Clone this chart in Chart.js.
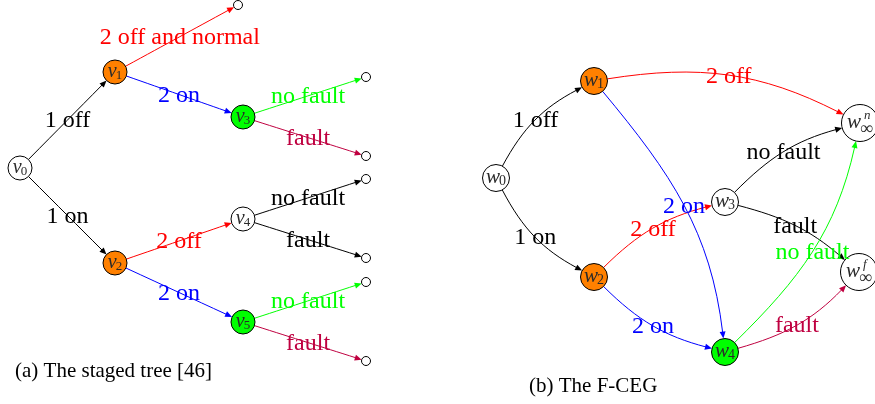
<!DOCTYPE html>
<html>
<head>
<meta charset="utf-8">
<script src="https://cdn.jsdelivr.net/npm/chart.js@4.4.0/dist/chart.umd.min.js"></script>
<style>
  html, body { margin: 0; padding: 0; background: #fff; }
  canvas { display: block; }
</style>
</head>
<body>
<canvas id="graphChart" width="875" height="404" style="width:875px;height:404px"></canvas>
<script>
// Nodes: (a) staged tree v*, leaves l*, (b) F-CEG w*
const nodeNames  = ['v0','v1','v2','v3','v4','v5','l1','l2','l3','l4','l5','l6','l7',
                    'w0','w1','w2','w3','w4','wn','wf'];
const nodeSymbol = ['v','v','v','v','v','v','','','','','','','',
                    'w','w','w','w','w','w','w'];
const nodeSub    = ['0','1','2','3','4','5','','','','','','','',
                    '0','1','2','3','4','\u221E','\u221E'];
const nodeSup    = ['','','','','','','','','','','','','',
                    '','','','','','n','f'];
const nodeStage  = ['none','orange','orange','green','none','green',
                    'leaf','leaf','leaf','leaf','leaf','leaf','leaf',
                    'none','orange','orange','none','green','none','none'];
const nodeX = [20, 115, 115, 243, 243, 243, 238, 366, 366, 366, 366, 366, 366,
               496, 594, 594, 725, 725, 860, 859];
const nodeY = [168, 72, 263, 117, 219, 322, 5, 77, 156, 179, 258, 282, 361,
               178, 81, 277, 202, 352, 123, 272];

// Edges
const edgeFrom  = ['v0','v0','v1','v1','v3','v3','v2','v2','v4','v4','v5','v5',
                   'w0','w0','w1','w1','w2','w2','w3','w3','w4','w4'];
const edgeTo    = ['v1','v2','l1','v3','l2','l3','v4','v5','l4','l5','l6','l7',
                   'w1','w2','wn','w4','w3','w4','wn','wf','wn','wf'];
const edgeLabel = ['1 off','1 on','2 off and normal','2 on','no fault','fault',
                   '2 off','2 on','no fault','fault','no fault','fault',
                   '1 off','1 on','2 off','2 on','2 off','2 on','no fault','fault','no fault','fault'];
const edgeKind  = ['k','k','r','b','g','m','r','b','k','k','g','m',
                   'k','k','r','b','r','b','k','k','g','m'];

const captions = ['(a) The staged tree [46]', '(b) The F-CEG'];

// styling
const stageFill = { none: '#ffffff', leaf: '#ffffff', orange: '#ff8000', green: '#00ff00' };
const edgeColors = { k: '#000000', r: '#ff0000', b: '#0000ff', g: '#00ff00', m: '#bf0040' };
// bend angles (out, in) in degrees, positive bends to the left; tree edges are straight
const edgeBend = [
  [0,0],[0,0],[0,0],[0,0],[0,0],[0,0],[0,0],[0,0],[0,0],[0,0],[0,0],[0,0],
  [17,17],[-17,-17],[18,18],[14,19],[15,15],[-15,-15],[15,15],[13,13],[-15,-18],[-15,-15]
];
const captionPos = [[15, 377], [529, 392]];
const SERIF = '"Liberation Serif", "Times New Roman", serif';

const nodeRadius = i => {
  if (!nodeSymbol[i]) return 4.5;
  if (nodeSup[i]) return 18.5;
  return nodeSymbol[i] === 'w' ? 13.5 : 12;
};

const idx = name => nodeNames.indexOf(name);

function edgeGeometry(chart, e) {
  const xs = chart.scales.x, ys = chart.scales.y;
  const a = idx(edgeFrom[e]), b = idx(edgeTo[e]);
  const p0 = { x: xs.getPixelForValue(nodeX[a]), y: ys.getPixelForValue(nodeY[a]) };
  const p3 = { x: xs.getPixelForValue(nodeX[b]), y: ys.getPixelForValue(nodeY[b]) };
  const phi = Math.atan2(p3.y - p0.y, p3.x - p0.x);
  const bo = edgeBend[e][0] * Math.PI / 180;
  const bi = edgeBend[e][1] * Math.PI / 180;
  const oa = phi - bo, ia = phi + bi;
  const s = { x: p0.x + nodeRadius(a) * Math.cos(oa), y: p0.y + nodeRadius(a) * Math.sin(oa) };
  const t = { x: p3.x - nodeRadius(b) * Math.cos(ia), y: p3.y - nodeRadius(b) * Math.sin(ia) };
  const d = 0.3915 * Math.hypot(t.x - s.x, t.y - s.y);
  const c1 = { x: s.x + d * Math.cos(oa), y: s.y + d * Math.sin(oa) };
  const c2 = { x: t.x - d * Math.cos(ia), y: t.y - d * Math.sin(ia) };
  return { s, c1, c2, t, ia };
}

function bezierAt(g, u) {
  const v = 1 - u;
  const k0 = v * v * v, k1 = 3 * v * v * u, k2 = 3 * v * u * u, k3 = u * u * u;
  return {
    x: k0 * g.s.x + k1 * g.c1.x + k2 * g.c2.x + k3 * g.t.x,
    y: k0 * g.s.y + k1 * g.c1.y + k2 * g.c2.y + k3 * g.t.y
  };
}

function drawNodeLabel(ctx, i, cx, cy) {
  const sym = nodeSymbol[i];
  if (!sym) return;
  const big = sym === 'w' ? 21 : 20;
  const mainFont = `italic ${big}px ${SERIF}`;
  const subFont = nodeSup[i] ? `${big - 3}px ${SERIF}` : `${big - 7}px ${SERIF}`;
  const supFont = `italic ${big - 8}px ${SERIF}`;
  ctx.font = mainFont;
  const wMain = ctx.measureText(sym).width;
  ctx.font = subFont;
  const wSub = ctx.measureText(nodeSub[i]).width;
  const total = wMain + wSub - 1;
  const x0 = cx - total / 2;
  const base = cy + 4.5;
  ctx.fillStyle = '#2a2a2a';
  ctx.textAlign = 'left';
  ctx.textBaseline = 'alphabetic';
  ctx.font = mainFont;
  ctx.fillText(sym, x0, base);
  ctx.font = subFont;
  ctx.fillText(nodeSub[i], x0 + wMain - 1, base + (nodeSup[i] ? 6 : 2.5));
  if (nodeSup[i]) {
    ctx.font = supFont;
    ctx.fillText(nodeSup[i], x0 + wMain + 3, base - 9);
  }
}

const graphPlugin = {
  id: 'graphPlugin',
  beforeDatasetsDraw(chart) {
    const ctx = chart.ctx;
    ctx.save();
    edgeFrom.forEach((_, e) => {
      const g = edgeGeometry(chart, e);
      const col = edgeColors[edgeKind[e]];
      ctx.strokeStyle = col;
      ctx.fillStyle = col;
      ctx.lineWidth = 1;
      // stop the line at the arrow base
      const len = 7, hw = 3;
      const bx = g.t.x - (len - 1) * Math.cos(g.ia), by = g.t.y - (len - 1) * Math.sin(g.ia);
      ctx.beginPath();
      ctx.moveTo(g.s.x, g.s.y);
      ctx.bezierCurveTo(g.c1.x, g.c1.y, g.c2.x, g.c2.y, bx, by);
      ctx.stroke();
      const ux = Math.cos(g.ia), uy = Math.sin(g.ia);
      ctx.beginPath();
      ctx.moveTo(g.t.x, g.t.y);
      ctx.lineTo(g.t.x - len * ux - hw * uy, g.t.y - len * uy + hw * ux);
      ctx.lineTo(g.t.x - len * ux + hw * uy, g.t.y - len * uy - hw * ux);
      ctx.closePath();
      ctx.fill();
    });
    ctx.restore();
  },
  afterDatasetsDraw(chart) {
    const ctx = chart.ctx;
    const xs = chart.scales.x, ys = chart.scales.y;
    ctx.save();
    // node labels
    nodeNames.forEach((_, i) => {
      drawNodeLabel(ctx, i, xs.getPixelForValue(nodeX[i]), ys.getPixelForValue(nodeY[i]));
    });
    // edge labels at midway
    ctx.font = `24px ${SERIF}`;
    ctx.textAlign = 'center';
    ctx.textBaseline = 'middle';
    edgeLabel.forEach((lab, e) => {
      const g = edgeGeometry(chart, e);
      const m = bezierAt(g, 0.5);
      ctx.fillStyle = edgeColors[edgeKind[e]];
      ctx.fillText(lab, m.x, m.y + 1);
    });
    // captions
    ctx.font = `21px ${SERIF}`;
    ctx.textAlign = 'left';
    ctx.textBaseline = 'alphabetic';
    ctx.fillStyle = '#000';
    captions.forEach((c, k) => {
      ctx.fillText(c, xs.getPixelForValue(captionPos[k][0]), ys.getPixelForValue(captionPos[k][1]));
    });
    ctx.restore();
  }
};

const ctx = document.getElementById('graphChart').getContext('2d');
new Chart(ctx, {
  type: 'scatter',
  data: {
    datasets: [{
      label: 'nodes',
      data: nodeNames.map((n, i) => ({ x: nodeX[i], y: nodeY[i] })),
      pointRadius: nodeNames.map((n, i) => nodeRadius(i)),
      pointHoverRadius: nodeNames.map((n, i) => nodeRadius(i)),
      pointBackgroundColor: nodeStage.map(s => stageFill[s]),
      pointBorderColor: '#000000',
      pointBorderWidth: 1,
      clip: false
    }]
  },
  options: {
    responsive: false,
    animation: false,
    events: [],
    layout: { padding: 0, autoPadding: false },
    scales: {
      x: { type: 'linear', min: 0, max: 875, display: false },
      y: { type: 'linear', min: 0, max: 404, reverse: true, display: false }
    },
    plugins: {
      legend: { display: false },
      tooltip: { enabled: false }
    }
  },
  plugins: [graphPlugin]
});
</script>
</body>
</html>
